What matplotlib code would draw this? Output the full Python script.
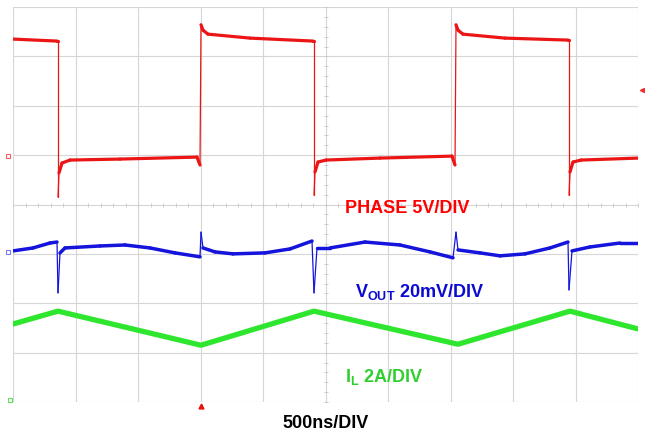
import numpy as np
import matplotlib
matplotlib.use("Agg")
import matplotlib.pyplot as plt
from matplotlib.collections import LineCollection

plt.rcParams['font.family'] = ['Liberation Sans', 'DejaVu Sans']
plt.rcParams['mathtext.fontset'] = 'custom'
plt.rcParams['mathtext.rm'] = 'Liberation Sans'
plt.rcParams['mathtext.bf'] = 'Liberation Sans:bold'

# scope screen: 10 x 500 ns horizontally, 8 divisions vertically
NS_PER_DIV = 500
N_XDIV = 10
N_YDIV = 8

# PHASE node (ch1), time in ns, level in screen divisions
phase_t = [0, 352, 360, 360, 368, 392, 456, 856, 1472, 1496, 1504, 1520, 1560, 1896,
           2400, 2408, 2408, 2416, 2440, 2504, 2936, 3512, 3536, 3544, 3560, 3600, 3936,
           4440, 4448, 4448, 4456, 4480, 4544, 5000]
phase_y = [7.35, 7.31, 7.31, 4.15, 4.64, 4.84, 4.90, 4.92, 4.96, 4.80, 7.64, 7.53, 7.45, 7.37,
           7.31, 7.31, 4.19, 4.66, 4.86, 4.90, 4.94, 4.98, 4.80, 7.64, 7.53, 7.45, 7.37,
           7.33, 7.33, 4.19, 4.66, 4.86, 4.90, 4.94]

# output voltage ripple (ch2)
vout_t = [0, 160, 296, 352, 360, 376, 416, 696, 896, 1096, 1296, 1496, 1504, 1520, 1616,
          1760, 2016, 2216, 2392, 2408, 2432, 2536, 2816, 3096, 3336, 3520, 3544, 3560,
          3736, 3896, 4096, 4296, 4440, 4448, 4472, 4616, 4856, 5000]
vout_y = [3.06, 3.12, 3.22, 3.24, 2.21, 3.02, 3.12, 3.16, 3.18, 3.12, 3.02, 2.94, 3.44, 3.12, 3.04,
          3.00, 3.02, 3.10, 3.26, 2.21, 3.12, 3.12, 3.24, 3.18, 3.04, 2.92, 3.44, 3.08,
          3.02, 2.96, 3.00, 3.12, 3.24, 2.27, 3.06, 3.14, 3.22, 3.22]

# inductor current (ch3)
il_t = [0, 360, 1504, 2408, 3560, 4456, 5000]
il_y = [1.58, 1.84, 1.15, 1.84, 1.17, 1.84, 1.48]


def trace(ax, t, y, color, lw_flat, lw_edge):
    pts = np.column_stack([np.asarray(t, float), np.asarray(y, float)])
    segs = np.stack([pts[:-1], pts[1:]], axis=1)
    dx = np.abs(np.diff(pts[:, 0])) / NS_PER_DIV
    dy = np.abs(np.diff(pts[:, 1]))
    # fast edges are drawn thin, like the faint scope trace
    steep = dy > 6 * dx
    widths = np.where(steep, lw_edge, lw_flat)
    lc = LineCollection(segs, colors=color, linewidths=widths, capstyle='round',
                        joinstyle='round', zorder=3)
    ax.add_collection(lc)


fig = plt.figure(figsize=(6.45, 4.34), dpi=100)
ax = fig.add_axes([13 / 645, 32 / 434, 625 / 645, 395 / 434])
ax.set_xlim(0, N_XDIV * NS_PER_DIV)
ax.set_ylim(0, N_YDIV)
ax.axis('off')

grid_c = '#d6d6d6'
for i in range(N_XDIV + 1):
    ax.axvline(i * NS_PER_DIV, color=grid_c, lw=0.8, zorder=1)
for j in range(N_YDIV + 1):
    ax.axhline(j, color=grid_c, lw=0.8, zorder=1)
# minor ticks on the centre cross
mx = np.arange(0, N_XDIV * NS_PER_DIV + 1, NS_PER_DIV / 5)
ax.plot(mx, np.full_like(mx, N_YDIV / 2), ls='none', marker='|', ms=3, mew=0.7,
        color='#cccccc', zorder=1)
my = np.arange(0, N_YDIV + 0.01, 0.2)
ax.plot(np.full_like(my, N_XDIV * NS_PER_DIV / 2), my, ls='none', marker='_', ms=3,
        mew=0.7, color='#cccccc', zorder=1)

trace(ax, phase_t, phase_y, '#ec1515', 2.3, 0.9)
trace(ax, vout_t, vout_y, '#1414dc', 2.5, 0.9)
ax.plot(il_t, il_y, color='#2ee62e', lw=3.8, solid_joinstyle='round',
        solid_capstyle='round', zorder=3)

# channel ground / trigger markers
ax.plot([-40], [4.98], marker='s', ms=3, mfc='none', mec='#f06060', mew=0.8, clip_on=False)
ax.plot([-40], [3.04], marker='s', ms=3.5, mfc='none', mec='#7a7af0', mew=0.8, clip_on=False)
ax.plot([-25], [0.05], marker='s', ms=3.5, mfc='none', mec='#60e060', mew=0.8, clip_on=False)
ax.plot([5030], [6.32], marker='<', ms=3, color='#f03030', clip_on=False)
ax.plot([1504], [-0.08], marker='^', ms=3.5, color='#e81010', clip_on=False)

ax.text(2656, 3.83, 'PHASE 5V/DIV', color='#ff0000', fontsize=13, fontweight='bold',
        va='baseline', ha='left')
ax.text(2736, 2.13, r'$\mathbf{V_{OUT}}$ 20mV/DIV', color='#0a0ad2', fontsize=13,
        fontweight='bold', va='baseline', ha='left')
ax.text(2656, 0.40, r'$\mathbf{I_{L}}$ 2A/DIV', color='#2fcf2f', fontsize=13,
        fontweight='bold', va='baseline', ha='left')
fig.text(325.5 / 645, 6 / 434, '500ns/DIV', color='black', fontsize=13, fontweight='bold',
         va='baseline', ha='center')

fig.savefig('out.png', dpi=100)
